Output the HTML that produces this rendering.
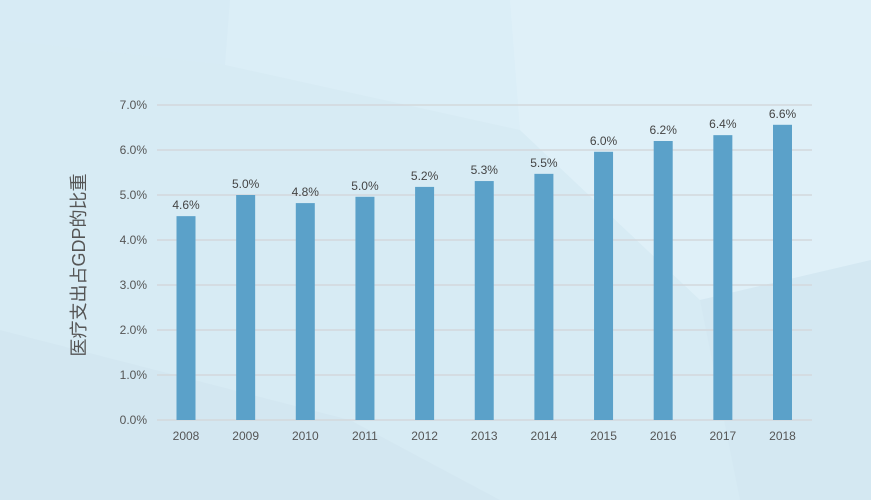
<!DOCTYPE html>
<html><head><meta charset="utf-8"><style>
body{margin:0;width:871px;height:500px;overflow:hidden;background:#dcedf6;}
svg{display:block;font-family:"Liberation Sans","Noto Sans CJK SC",sans-serif;}
</style></head><body>
<svg id="chart" width="871" height="500" xmlns="http://www.w3.org/2000/svg">
<g>
<rect width="871" height="500" fill="#dbeef7"/>
<polygon points="0,0 230,0 225,65 0,40" fill="#d7ebf5"/>
<polygon points="225,65 520,130 700,300 871,380 871,500 500,500 350,420 0,330 0,40" fill="#d6eaf3" opacity="0.8"/>
<polygon points="510,0 871,0 871,260 700,300 520,130" fill="#dff0f8"/>
<polygon points="0,330 350,420 500,500 0,500" fill="#d3e7f1"/>
<polygon points="700,300 871,260 871,500 740,500" fill="#d4e8f2"/>
</g>
<g id="grid"></g>
<g id="yticks"></g>
<g id="bars"></g>
<g id="xticks"></g>
<text transform="translate(85,265) rotate(-90)" text-anchor="middle" font-size="18" fill="#555">医疗支出占GDP的比重</text>
</svg>
<script>
const categories=["2008","2009","2010","2011","2012","2013","2014","2015","2016","2017","2018"];
const values=[4.53,5.0,4.82,4.96,5.18,5.31,5.47,5.96,6.2,6.33,6.56];
const valueLabels=["4.6%","5.0%","4.8%","5.0%","5.2%","5.3%","5.5%","6.0%","6.2%","6.4%","6.6%"];
const yTicks=[0,1,2,3,4,5,6,7];
const yTickLabels=["0.0%","1.0%","2.0%","3.0%","4.0%","5.0%","6.0%","7.0%"];
const NS="http://www.w3.org/2000/svg";
const x0=157,x1=812,yBase=420,yTop=105,yMax=7;
const y=v=>yBase-(v/yMax)*(yBase-yTop);
const step=(782.5-186)/(categories.length-1);
const xc=i=>186+i*step;
function mk(t,a,p){const e=document.createElementNS(NS,t);for(const k in a)e.setAttribute(k,a[k]);p.appendChild(e);return e;}
const grid=document.getElementById('grid'),yt=document.getElementById('yticks'),bars=document.getElementById('bars'),xt=document.getElementById('xticks');
yTicks.forEach((v,i)=>{
 const l=mk('line',{x1:x0,x2:x1,y1:y(v),y2:y(v),stroke:'#d3d8dc','stroke-width':1.5},grid);
 
 
 const t=mk('text',{x:147,y:y(v)+4,'text-anchor':'end','font-size':12,fill:'#555'},yt);
 t.textContent=yTickLabels[i];
 
 
});
categories.forEach((c,i)=>{
 const r=mk('rect',{x:xc(i)-9.5,y:y(values[i]),width:19,height:yBase-y(values[i]),fill:'#5ba1c9'},bars);
 
 
 const vl=mk('text',{x:xc(i),y:y(values[i])-7,'text-anchor':'middle','font-size':12,fill:'#444'},bars);
 vl.textContent=valueLabels[i];
 
 
 const t=mk('text',{x:xc(i),y:440,'text-anchor':'middle','font-size':12,fill:'#555'},xt);
 t.textContent=c;
 
 
});
</script>
</body></html>
